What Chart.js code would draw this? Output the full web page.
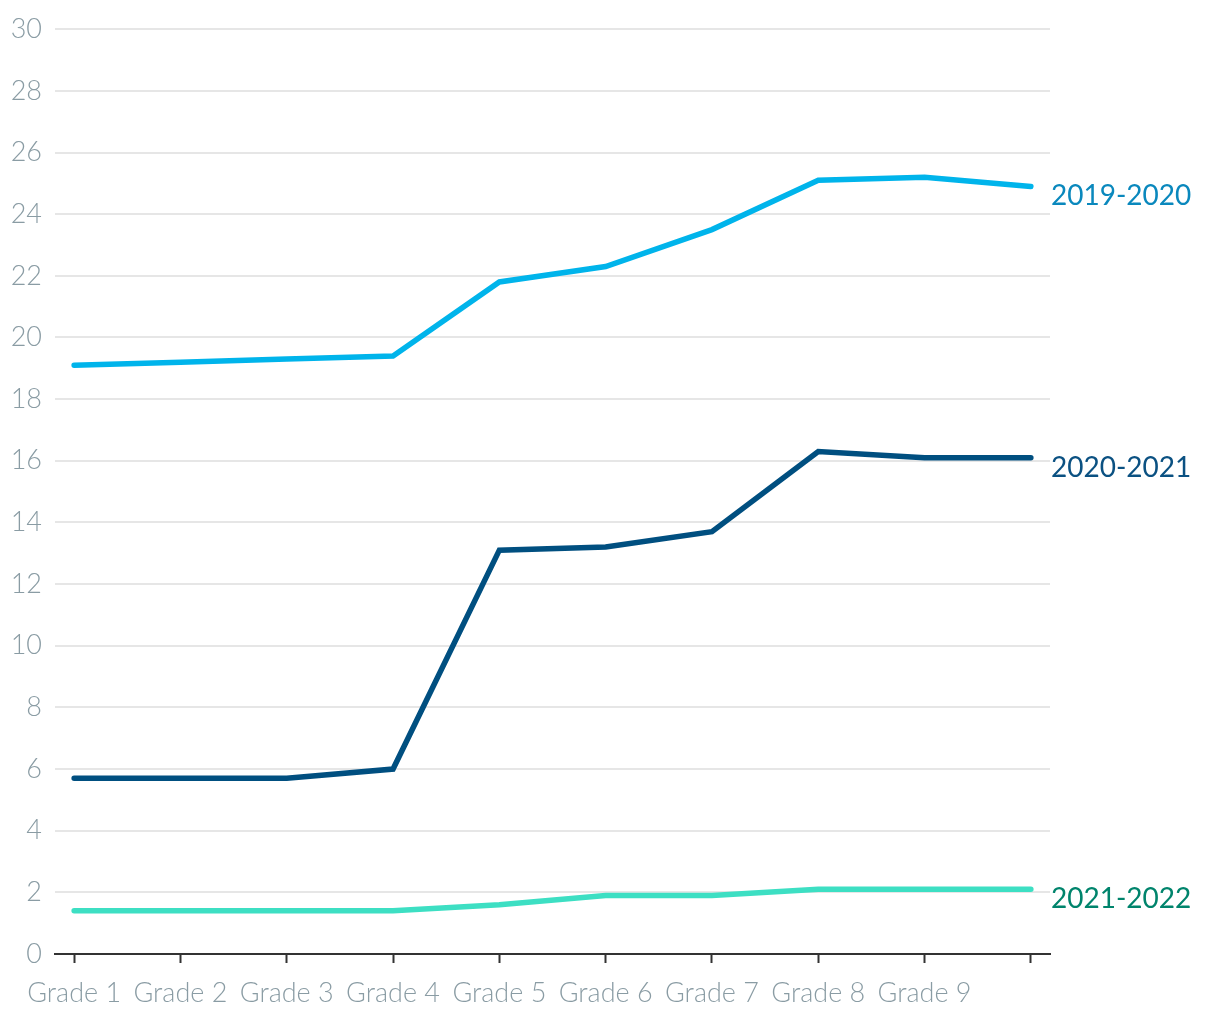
<!DOCTYPE html>
<html>
<head>
<meta charset="utf-8">
<script src="https://cdn.jsdelivr.net/npm/chart.js@4.4.1/dist/chart.umd.min.js"></script>
<style>
  html, body { margin: 0; padding: 0; background: #fff; }
  canvas { display: block; }
</style>
</head>
<body>
<canvas id="chart" width="1220" height="1020"></canvas>
<script>
// カテゴリ（最後の点はラベルなし）
const grades = ['Grade 1', 'Grade 2', 'Grade 3', 'Grade 4', 'Grade 5', 'Grade 6', 'Grade 7', 'Grade 8', 'Grade 9', ''];
const seasons = ['2019-2020', '2020-2021', '2021-2022'];

// 系列データ
const values1920 = [19.1, 19.2, 19.3, 19.4, 21.8, 22.3, 23.5, 25.1, 25.2, 24.9];
const values2021 = [5.7, 5.7, 5.7, 6.0, 13.1, 13.2, 13.7, 16.3, 16.1, 16.1];
const values2122 = [1.4, 1.4, 1.4, 1.4, 1.6, 1.9, 1.9, 2.1, 2.1, 2.1];

const lineColors = ['#00b4eb', '#004f80', '#3ddfc3'];
const labelColors = ['#0a88bd', '#0b5182', '#00846c'];

const toPoints = arr => arr.map((v, i) => ({ x: i, y: v }));

// 線の右端に系列名を描くプラグイン
const endLabels = {
    id: 'endLabels',
    afterDatasetsDraw(chart) {
        const ctx = chart.ctx;
        ctx.save();
        ctx.font = '400 28px Lato';
        ctx.textAlign = 'left';
        ctx.textBaseline = 'alphabetic';
        chart.data.datasets.forEach((ds, i) => {
            const meta = chart.getDatasetMeta(i);
            const last = meta.data[meta.data.length - 1];
            ctx.fillStyle = labelColors[i];
            ctx.fillText(ds.label, chart.chartArea.right + 1, last.y + 19);
        });
        ctx.restore();
    }
};

const ctx = document.getElementById('chart').getContext('2d');
new Chart(ctx, {
    type: 'line',
    data: {
        datasets: [values1920, values2021, values2122].map((vals, i) => ({
            label: seasons[i],
            data: toPoints(vals),
            borderColor: lineColors[i],
            backgroundColor: lineColors[i],
            borderWidth: 5.5,
            borderCapStyle: 'round',
            pointRadius: 0,
            tension: 0,
            fill: false
        }))
    },
    options: {
        responsive: false,
        animation: false,
        layout: {
            padding: { top: 28, right: 170, bottom: 0, left: 0 }
        },
        scales: {
            x: {
                type: 'linear',
                min: -0.18,
                max: 9.18,
                afterBuildTicks: scale => {
                    scale.ticks = grades.map((_, i) => ({ value: i }));
                },
                afterFit: scale => { scale.height = 66; },
                grid: {
                    drawOnChartArea: false,
                    drawTicks: true,
                    tickLength: 9,
                    tickWidth: 2,
                    tickColor: '#333'
                },
                border: { display: true, color: '#333', width: 2 },
                ticks: {
                    autoSkip: false,
                    maxRotation: 0,
                    padding: 14,
                    color: '#8a9ca4',
                    font: { family: 'Lato', size: 27, weight: '300' },
                    callback: v => grades[v] ?? ''
                }
            },
            y: {
                min: 0,
                max: 30,
                afterFit: scale => { scale.width = 55; },
                grid: {
                    color: '#e6e6e6',
                    lineWidth: 2,
                    drawTicks: false
                },
                border: { display: false },
                ticks: {
                    stepSize: 2,
                    padding: 13,
                    color: '#8a9ca4',
                    font: { family: 'Lato', size: 27, weight: '300' }
                }
            }
        },
        plugins: {
            legend: { display: false },
            tooltip: { enabled: false }
        }
    },
    plugins: [endLabels]
});
</script>
</body>
</html>
